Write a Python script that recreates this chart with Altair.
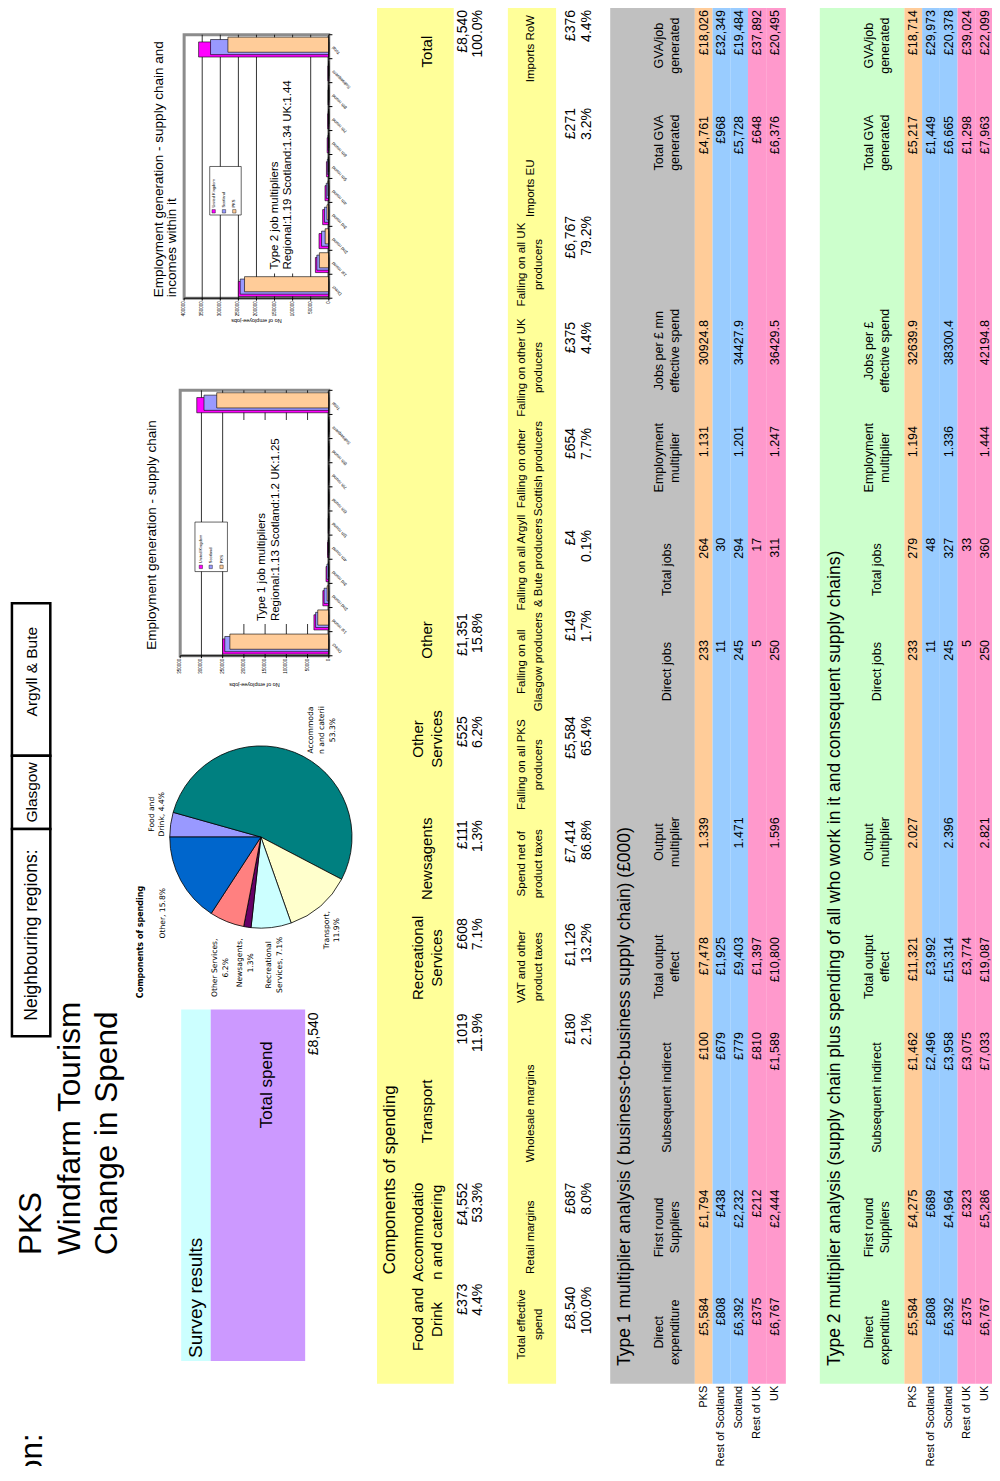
import math
import altair as alt
import pandas as pd

# ------------------------------------------------------------------ data
title_lines = ["PKS", "Windfarm Tourism", "Change in Spend"]
region_label = "Region:"
neighbour_title = "Neighbouring regions:"
neighbours = ["Glasgow", "Argyll & Bute"]

survey_label = "Survey results"
total_spend_label = "Total spend"
total_spend_value = "£8,540"

comp_title = "Components of spending"
comp_headers = [["Food and", "Drink"], ["Accommodatio", "n and catering"], ["Transport"],
                ["Recreational", "Services"], ["Newsagents"], ["Other", "Services"], ["Other"], ["Total"]]
comp_values = ["£373", "£4,552", "1019", "£608", "£111", "£525", "£1,351", "£8,540"]
comp_pcts = ["4.4%", "53.3%", "11.9%", "7.1%", "1.3%", "6.2%", "15.8%", "100.0%"]

flow_headers = [["Total effective", "spend"], ["Retail margins"], ["Wholesale margins"],
                ["VAT and other", "product taxes"], ["Spend net of", "product taxes"],
                ["Falling on all PKS", "producers"], ["Falling on all", "Glasgow producers"],
                ["Falling on all Argyll", "& Bute producers"], ["Falling on other", "Scottish producers"],
                ["Falling on other UK", "producers"], ["Falling on all UK", "producers"],
                ["Imports EU"], ["Imports RoW"]]
flow_values = ["£8,540", "£687", "£180", "£1,126", "£7,414", "£5,584", "£149", "£4", "£654",
               "£375", "£6,767", "£271", "£376"]
flow_pcts = ["100.0%", "8.0%", "2.1%", "13.2%", "86.8%", "65.4%", "1.7%", "0.1%", "7.7%",
             "4.4%", "79.2%", "3.2%", "4.4%"]

pie_title = "Components of spending"
pie_names = ["Food and Drink", "Accommodation and catering", "Transport", "Recreational Services",
             "Newsagents", "Other Services", "Other"]
pie_values = [373, 4552, 1019, 608, 111, 525, 1351]
pie_labels = [["Food and", "Drink, 4.4%"], ["Accommoda", "n and caterii", "53.3%"], ["Transport,", "11.9%"],
              ["Recreational", "Services, 7.1%"], ["Newsagents,", "1.3%"], ["Other Services,", "6.2%"],
              ["Other, 15.8%"]]

row_labels = ["PKS", "Rest of Scotland", "Scotland", "Rest of UK", "UK"]

t1_title = "Type 1 multiplier analysis ( business-to-business supply chain) (£000)"
t1_headers = [["Direct", "expenditure"], ["First round", "Suppliers"], ["Subsequent indirect"],
              ["Total output", "effect"], ["Output", "multiplier"], ["Direct jobs"], ["Total jobs"],
              ["Employment", "multiplier"], ["Jobs per £ mn", "effective spend"], ["Total GVA", "generated"],
              ["GVA/job", "generated"]]
t1_direct_exp = ["£5,584", "£808", "£6,392", "£375", "£6,767"]
t1_first_round = ["£1,794", "£438", "£2,232", "£212", "£2,444"]
t1_subsequent = ["£100", "£679", "£779", "£810", "£1,589"]
t1_total_output = ["£7,478", "£1,925", "£9,403", "£1,397", "£10,800"]
t1_output_mult = ["1.339", "", "1.471", "", "1.596"]
t1_direct_jobs = ["233", "11", "245", "5", "250"]
t1_total_jobs = ["264", "30", "294", "17", "311"]
t1_emp_mult = ["1.131", "", "1.201", "", "1.247"]
t1_jobs_per = ["30924.8", "", "34427.9", "", "36429.5"]
t1_total_gva = ["£4,761", "£968", "£5,728", "£648", "£6,376"]
t1_gva_job = ["£18,026", "£32,349", "£19,484", "£37,892", "£20,495"]

t2_title = ("Type 2 multiplier analysis (supply chain plus spending of all who work in it "
            "and consequent supply chains)")
t2_headers = [["Direct", "expenditure"], ["First round", "Suppliers"], ["Subsequent indirect"],
              ["Total output", "effect"], ["Output", "multiplier"], ["Direct jobs"], ["Total jobs"],
              ["Employment", "multiplier"], ["Jobs per £", "effective spend"], ["Total GVA", "generated"],
              ["GVA/job", "generated"]]
t2_direct_exp = ["£5,584", "£808", "£6,392", "£375", "£6,767"]
t2_first_round = ["£4,275", "£689", "£4,964", "£323", "£5,286"]
t2_subsequent = ["£1,462", "£2,496", "£3,958", "£3,075", "£7,033"]
t2_total_output = ["£11,321", "£3,992", "£15,314", "£3,774", "£19,087"]
t2_output_mult = ["2.027", "", "2.396", "", "2.821"]
t2_direct_jobs = ["233", "11", "245", "5", "250"]
t2_total_jobs = ["279", "48", "327", "33", "360"]
t2_emp_mult = ["1.194", "", "1.336", "", "1.444"]
t2_jobs_per = ["32639.9", "", "38300.4", "", "42194.8"]
t2_total_gva = ["£5,217", "£1,449", "£6,665", "£1,298", "£7,963"]
t2_gva_job = ["£18,714", "£29,973", "£20,378", "£39,024", "£22,099"]

rounds = ["Direct", "1st round", "2nd round", "3rd round", "4th round", "5th round",
          "6th round", "7th round", "8th round", "Subsequent", "Total"]
series_names = ["United Kingdom", "Scotland", "PKS"]
t1_jobs_pks = [233000, 26000, 3800, 800, 250, 80, 30, 15, 10, 15, 264000]
t1_jobs_scotland = [245000, 31000, 11000, 4300, 1600, 600, 250, 120, 60, 70, 294000]
t1_jobs_uk = [250000, 35000, 14000, 6500, 3000, 1300, 600, 300, 150, 150, 311000]
t2_jobs_pks = [233000, 26000, 10000, 5000, 2500, 1200, 600, 300, 150, 150, 279000]
t2_jobs_scotland = [245000, 33000, 20000, 12000, 7000, 4000, 2500, 1500, 1000, 1000, 327000]
t2_jobs_uk = [250000, 37000, 27000, 17000, 10500, 6500, 4500, 3000, 2000, 2500, 360000]
t1_ticks = [0, 50000, 100000, 150000, 200000, 250000, 300000, 350000]
t2_ticks = [0, 50000, 100000, 150000, 200000, 250000, 300000, 350000, 400000]
chart1_title = "Employment generation - supply chain"
chart2_title = ["Employment generation - supply chain and", "incomes within it"]
t1_note = ["Type 1 job multipliers", "Regional:1.13  Scotland:1.2  UK:1.25"]
t2_note = ["Type 2 job multipliers", "Regional:1.19  Scotland:1.34  UK:1.44"]
axis_title = "No of employee-jobs"

# ------------------------------------------------------------------ layout / style
SX = 0.984                 # horizontal squeeze so the full page width fits inside the 8px margins
CW, CH = 984, 1458
Y0, Y1 = 4, 1476           # page rows mapped onto the chart height
KY = CH / (Y1 - Y0)
SANS = "Liberation Sans, Arial, Helvetica, sans-serif"
PIEF = "DejaVu Sans, Verdana, sans-serif"
TB = 1393                  # bottom edge of the spreadsheet tables (page y)

YELLOW, CYAN, PURPLE = "#FFFF99", "#CCFFFF", "#CC99FF"
GRAY, GREEN = "#C0C0C0", "#CCFFCC"
PEACH, BLUE, PINK = "#FFCC99", "#99CCFF", "#FF99CC"
pie_colors = ["#9999FF", "#008080", "#FFFFCC", "#CCFFFF", "#660066", "#FF8080", "#0066CC"]
series_colors = ["#FF00FF", "#9999FF", "#FFCC99"]

texts, rects, back_rects = [], [], []


def T(x, y, t, size, align="center", angle=270, font=SANS, weight="normal"):
    if t == "":
        return
    texts.append({"x": x, "y": y, "t": t, "size": size, "align": align,
                  "angle": angle, "font": font, "weight": weight})


def TL(xc, y, lines, size, lh, **kw):
    n = len(lines)
    for i, s in enumerate(lines):
        T(xc + (i - (n - 1) / 2) * lh, y, s, size, **kw)


def R(x1, x2, y1, y2, fill, stroke="transparent", sw=0, top=False):
    (rects if top else back_rects).append(
        {"x1": x1, "x2": x2, "y1": y1, "y2": y2, "fill": fill, "stroke": stroke, "sw": sw})


def page_x(f):
    return alt.X(f, scale=alt.Scale(domain=[0, 1000], range=[0, 1000 * SX], nice=False, zero=False), axis=None)


def page_y(f):
    return alt.Y(f, scale=alt.Scale(domain=[Y0, Y1], range=[0, CH], nice=False, zero=False), axis=None)


def sy(v):
    return (v - Y0) * KY


# header
for xc, s in zip([24, 64, 102], title_lines):
    T(xc, 1263, s, 31.5, align="left")
T(25, 1443, region_label, 31.5, align="right")

# neighbouring regions box
R(4, 43, 605, 759, "white", "black", 2.5)
R(4, 43, 759, 833, "white", "black", 2.5)
R(4, 43, 833, 1042, "white", "black", 2.5)
T(24, 940, neighbour_title, 17.5)
T(24, 796, neighbours[0], 15.5)
T(24, 674, neighbours[1], 15.5)

# survey block
R(176, 206, 1015, 1370, CYAN)
R(206, 302, 1015, 1370, PURPLE)
T(191, 1367, survey_label, 19, align="left")
T(263, 1091, total_spend_label, 17)
T(311, 1018, total_spend_value, 14, align="right")

# components of spending table
comp_hc = [1328, 1240, 1118, 963, 863, 742, 642, 48]
comp_anchor = [1292, 1190, 1019, 923, 824, 719, 615, 6]
R(375, 453, 4, TB, YELLOW)
T(388, 1187, comp_title, 17)
for i in range(len(comp_headers)):
    TL(426, comp_hc[i], comp_headers[i], 15, 19)
    T(462, comp_anchor[i], comp_values[i], 14, align="right")
    T(478, comp_anchor[i], comp_pcts[i], 14, align="right")

# spend flow table
flow_hc = [1333, 1245, 1120, 972, 868, 768, 664, 564, 469, 367, 263, 186, 45]
flow_anchor = [1295, 1190, 1019, 928, 824, 719, 612, 531, 428, 321, 214, 105, 6]
R(508, 557, 4, TB, YELLOW)
for i in range(len(flow_headers)):
    TL(531, flow_hc[i], flow_headers[i], 11.5, 17)
    T(572, flow_anchor[i], flow_values[i], 14, align="right")
    T(588, flow_anchor[i], flow_pcts[i], 14, align="right")

# multiplier tables
type_hc = [1341, 1235, 1104, 972, 846, 674, 571, 458, 350, 140, 42]
type_anchor = [1306, 1197, 1038, 942, 821, 642, 539, 426, 319, 113, 6]
row_edges = [86, 104, 122, 140, 158.5, 176.5]
row_fills = [PEACH, BLUE, BLUE, PINK, PINK]


def type_table(x0, head_fill, title, headers, columns):
    R(x0, x0 + 86, 2, TB, head_fill)
    for r in range(5):
        R(x0 + row_edges[r], x0 + row_edges[r + 1] + (2 if r == 4 else 0), 2, TB, row_fills[r])
    T(x0 + 15, TB - 18, title, 17.5, align="left")
    for i, lines in enumerate(headers):
        TL(x0 + 58, type_hc[i], lines, 12.5, 16)
    for r in range(5):
        xc = x0 + (row_edges[r] + row_edges[r + 1]) / 2
        T(xc, TB + 2, row_labels[r], 11, align="right")
        for i, col in enumerate(columns):
            T(xc, type_anchor[i], col[r], 12.5, align="right")


type_table(612, GRAY, t1_title, t1_headers,
           [t1_direct_exp, t1_first_round, t1_subsequent, t1_total_output, t1_output_mult,
            t1_direct_jobs, t1_total_jobs, t1_emp_mult, t1_jobs_per, t1_total_gva, t1_gva_job])
type_table(825, GREEN, t2_title, t2_headers,
           [t2_direct_exp, t2_first_round, t2_subsequent, t2_total_output, t2_output_mult,
            t2_direct_jobs, t2_total_jobs, t2_emp_mult, t2_jobs_per, t2_total_gva, t2_gva_job])

# pie labels
T(135, 947, pie_title, 8, font=PIEF, weight="bold")
pie_lab_pos = [(151, 818, 10), (319, 733, 11.5), (329, 935, 10), (270.5, 970, 11),
               (241.5, 968, 11), (216, 973, 12), (157.5, 918, 10)]
for (xc, yc, lh), lines in zip(pie_lab_pos, pie_labels):
    TL(xc, yc, lines, 7.6, lh, font=PIEF)

# chart titles, notes, legends
T(146, 652, chart1_title, 13.5, align="left")
T(153, 296, chart2_title[0], 13.5, align="left")
T(167, 296, chart2_title[1], 13.5, align="left")
T(258, 623, t1_note[0], 11.5, align="left")
T(272, 623, t1_note[1], 11.5, align="left")
T(271, 268, t2_note[0], 11.5, align="left")
T(285, 268, t2_note[1], 11.5, align="left")

R(190, 223, 523, 573, "white", "black", 0.6, top=True)
for xc, name, col in zip([196, 206, 217], series_names, series_colors):
    R(xc - 1.7, xc + 1.7, 566.5, 570, col, "black", 0.4, top=True)
    T(xc, 564.5, name, 4, align="left")
R(205, 237, 164, 213, "white", "black", 0.6, top=True)
for xc, name, col in zip([209, 219.5, 230], series_names, series_colors):
    R(xc - 1.7, xc + 1.7, 207.5, 211, col, "black", 0.4, top=True)
    T(xc, 205.5, name, 4, align="left")


def rect_chart(rows):
    return alt.Chart(pd.DataFrame(rows)).mark_rect().encode(
        x=page_x("x1:Q"), x2="x2:Q", y=page_y("y1:Q"), y2="y2:Q",
        fill=alt.Fill("fill:N", scale=None),
        stroke=alt.Stroke("stroke:N", scale=None),
        strokeWidth=alt.StrokeWidth("sw:Q", scale=None))


def text_charts(items):
    df = pd.DataFrame(items)
    out = []
    for (font, weight, align, angle), g in df.groupby(["font", "weight", "align", "angle"]):
        out.append(alt.Chart(g.reset_index(drop=True)).mark_text(
            font=font, fontWeight=weight, align=align, angle=float(angle), baseline="middle",
            color="black").encode(x=page_x("x:Q"), y=page_y("y:Q"), text="t:N",
                                  size=alt.Size("size:Q", scale=None)))
    return out


def panel(pks, scot, uk, vmax, ticks, xz, xm, yb, yt, box, title_py):
    xs = alt.Scale(domain=[0, vmax], range=[xz * SX, xm * SX], nice=False, zero=False)
    ys = alt.Scale(domain=[-0.5, 10.5], range=[sy(yb), sy(yt)], nice=False, zero=False)

    def X(f):
        return alt.X(f, scale=xs, axis=None)

    def Y(f):
        return alt.Y(f, scale=ys, axis=None)

    def vpx(px):
        return (xz - px) / (xz - xm) * vmax

    def cpy(py):
        return (yb - py) / (yb - yt) * 11 - 0.5

    frame = alt.Chart(pd.DataFrame([{"v": 0, "v2": vmax, "c": -0.5, "c2": 10.5}])).mark_rect(
        fill="white", stroke="#8c8c8c", strokeWidth=3).encode(x=X("v:Q"), x2="v2:Q", y=Y("c:Q"), y2="c2:Q")
    grid = alt.Chart(pd.DataFrame({"v": ticks[1:-1], "c": -0.5, "c2": 10.5})).mark_rule(
        color="black", strokeWidth=0.8).encode(x=X("v:Q"), y=Y("c:Q"), y2="c2:Q")
    bx1, bx2, by1, by2 = box
    wbox = alt.Chart(pd.DataFrame([{"v": vpx(bx1), "v2": vpx(bx2), "c": cpy(by1), "c2": cpy(by2)}])).mark_rect(
        fill="white").encode(x=X("v:Q"), x2="v2:Q", y=Y("c:Q"), y2="c2:Q")
    rows = []
    for order, (name, vals, off) in enumerate([(series_names[0], uk, -0.1), (series_names[1], scot, 0.0),
                                               (series_names[2], pks, 0.1)]):
        for k, val in enumerate(vals):
            rows.append({"series": name, "v": val, "v2": 0, "c": k - 0.33 + off, "c2": k + 0.30 + off,
                         "ord": order})
    bars = alt.Chart(pd.DataFrame(rows)).mark_rect(stroke="black", strokeWidth=0.6).encode(
        x=X("v:Q"), x2="v2:Q", y=Y("c:Q"), y2="c2:Q",
        color=alt.Color("series:N", scale=alt.Scale(domain=series_names, range=series_colors), legend=None),
        order=alt.Order("ord:Q"))
    rule_rows = [{"v": 0, "v2": 0, "c": -0.5, "c2": 10.5}, {"v": 0, "v2": vmax, "c": -0.5, "c2": -0.5}]
    rule_rows += [{"v": t, "v2": t, "c": -0.5, "c2": -0.6} for t in ticks]
    rule_rows += [{"v": 0, "v2": -0.025 * vmax, "c": k + 0.5, "c2": k + 0.5} for k in range(-1, 11)]
    axes = alt.Chart(pd.DataFrame(rule_rows)).mark_rule(color="black", strokeWidth=1).encode(
        x=X("v:Q"), x2="v2:Q", y=Y("c:Q"), y2="c2:Q")
    tick_text = alt.Chart(pd.DataFrame({"v": ticks, "c": -0.5, "t": [str(t) for t in ticks]})).mark_text(
        angle=270, align="right", baseline="middle", dx=-3, fontSize=4.5, font=SANS).encode(
        x=X("v:Q"), y=Y("c:Q"), text="t:N")
    cat_text = alt.Chart(pd.DataFrame({"v": [0] * 11, "c": list(range(11)), "t": rounds})).mark_text(
        angle=225, align="right", baseline="middle", dx=-3, dy=3, fontSize=4.5, font=SANS).encode(
        x=X("v:Q"), y=Y("c:Q"), text="t:N")
    ttl = alt.Chart(pd.DataFrame([{"v": vmax / 2, "c": cpy(title_py), "t": axis_title}])).mark_text(
        angle=180, baseline="middle", fontSize=5.5, font=SANS).encode(x=X("v:Q"), y=Y("c:Q"), text="t:N")
    return alt.layer(frame, grid, wbox, bars, axes, tick_text, cat_text, ttl)


panel1 = panel(t1_jobs_pks, t1_jobs_scotland, t1_jobs_uk, 350000, t1_ticks, 326, 175, 658, 390,
               (307, 236, 626, 420), 688)
panel2 = panel(t2_jobs_pks, t2_jobs_scotland, t2_jobs_uk, 400000, t2_ticks, 326, 179, 297, 31,
               (300, 258, 272, 48), 320)

pie_df = pd.DataFrame({"name": pie_names, "val": pie_values, "idx": list(range(len(pie_names)))})
pie = alt.Chart(pie_df).mark_arc(outerRadius=92 * KY, stroke="black", strokeWidth=0.8).encode(
    x=alt.value(257 * SX), y=alt.value(sy(841)),
    theta=alt.Theta("val:Q", stack=True, scale=alt.Scale(range=[1.5 * math.pi, 3.5 * math.pi])),
    color=alt.Color("name:N", scale=alt.Scale(domain=pie_names, range=pie_colors), legend=None),
    order=alt.Order("idx:Q"))

page_bottom = rect_chart(back_rects)
page_top = alt.layer(rect_chart(rects), *text_charts(texts))

chart = alt.layer(page_bottom, pie, panel1, panel2, page_top).resolve_scale(
    x="independent", y="independent", color="independent"
).properties(width=CW, height=CH, padding=0, autosize="none").configure_view(stroke=None)

chart.save("out.html", embed_options={"renderer": "svg", "actions": False})
